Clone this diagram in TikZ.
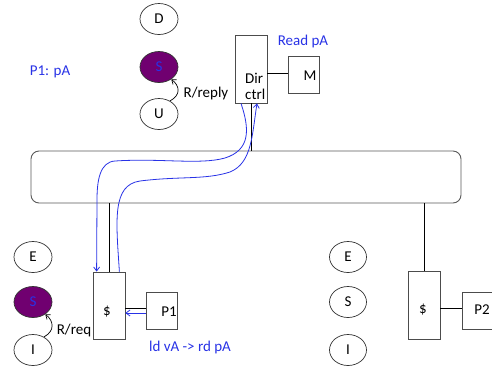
\documentclass[tikz,border=0pt]{standalone}
\usepackage{fontspec}
\setmainfont{Carlito}
\usetikzlibrary{shapes.geometric,arrows.meta,calc}
\definecolor{pblue}{RGB}{40,50,230}
\definecolor{purp}{RGB}{112,0,112}
\begin{document}
\begin{tikzpicture}[x=1pt,y=-1pt,
  every node/.style={font=\fontsize{15}{18}\selectfont},
  st/.style={ellipse,draw=black!80,line width=0.7pt,minimum width=38pt,minimum height=31pt,inner sep=0pt},
  sh/.style={st,fill=purp,text=pblue},
  box/.style={draw=black!70,line width=0.8pt,inner sep=0pt},
  lbl/.style={text=pblue,inner sep=0pt},
  txt/.style={inner sep=0pt},
  bl/.style={pblue,line width=0.8pt},
  tip/.style={-{Straight Barb[length=4pt,width=6pt]}}]
\useasboundingbox (0,0) rectangle (492,365);

% bus
\node[draw=black!65,line width=0.9pt,rounded corners=8pt,minimum width=430pt,minimum height=52pt] (bus) at (246,177) {};

% directory side
\node[box,minimum width=32pt,minimum height=68pt] (dir) at (251,69) {};
\node[txt,align=left,anchor=west,font=\fontsize{15}{16}\selectfont] (dirt) at (245,86) {Dir\\ctrl};
\node[box,minimum width=31pt,minimum height=37pt] (M) at (303.5,74.5) {};
\node[txt] (Mt) at (310,76) {M};
\node[lbl] (readpa) at (303,41) {Read pA};
\node[lbl] (p1pa) at (50,72) {P1: pA};

\node[st] (D) at (159,19) {D};
\node[sh] (S1) at (159,67) {S};
\node[st] (U) at (159,114) {U};
\node[txt] (rreply) at (206,93) {R/reply};

% left cache
\node[st] (E2) at (33,257) {E};
\node[sh] (S2) at (33,302) {S};
\node[st] (I2) at (33,350) {I};
\node[txt] (rreq) at (74,330) {R/req};
\node[box,minimum width=32pt,minimum height=67pt] (cL) at (109,305.5) {};
\node[txt] (cLt) at (107,312) {\$};
\node[box,minimum width=31pt,minimum height=37pt] (P1) at (161.5,310.5) {};
\node[txt] (P1t) at (169,312) {P1};
\node[lbl] (ldva) at (190,347) {ld vA -> rd pA};

% right cache
\node[st,minimum width=37pt] (E3) at (348,257) {E};
\node[st,minimum width=37pt] (S3) at (348,302) {S};
\node[st,minimum width=37pt] (I3) at (348,350) {I};
\node[box,minimum width=32pt,minimum height=68pt] (cR) at (424,305) {};
\node[txt] (cRt) at (423,310) {\$};
\node[box,minimum width=31pt,minimum height=37pt] (P2) at (477.5,310.5) {};
\node[txt] (P2t) at (482,310) {P2};

% black connectors
\draw[line width=0.8pt] (dir.south) -- (dir.south |- bus.north);
\draw[line width=0.8pt] (cL.north) -- (cL.north |- bus.south);
\draw[line width=0.8pt] (cR.north) -- (cR.north |- bus.south);
\draw[line width=0.8pt] ($(M.west)+(0,-1.5)$) -- ($(M.west -| dir.east)+(0,-1.5)$);
\draw[line width=0.8pt] ($(P1.west)+(0,-2.5)$) -- ($(P1.west -| cL.east)+(0,-2.5)$);
\draw[line width=0.8pt] ($(P2.west)+(0,-2.5)$) -- ($(P2.west -| cR.east)+(0,-2.5)$);
\draw[bl,tip] ($(P1.west)+(0,2.5)$) -- ($(P1.west -| cL.east)+(0,2.5)$);

% state transitions
\draw[line width=0.7pt,tip] (U.50) .. controls (181,95) and (180,86) .. (S1.-45);
\draw[line width=0.7pt,tip] (I2.50) .. controls (55,331) and (54,321) .. (S2.-45);

% blue message paths
\draw[bl,tip] ($(dir.south)+(-10,0)$) .. controls (250,130) and (250,150) .. (225,158)
  .. controls (200,165) and (160,158) .. (115,161)
  .. controls (100,162) and (97,180) .. (97,200) -- ($(cL.north west)+(4,0)$);
\draw[bl,tip] ($(cL.north east)+(-6,0)$) .. controls (116,220) and (112,185) .. (140,181)
  .. controls (180,176) and (205,180) .. (230,172)
  .. controls (252,163) and (252,135) .. ($(dir.south)+(6,0)$);
\end{tikzpicture}
\end{document}
